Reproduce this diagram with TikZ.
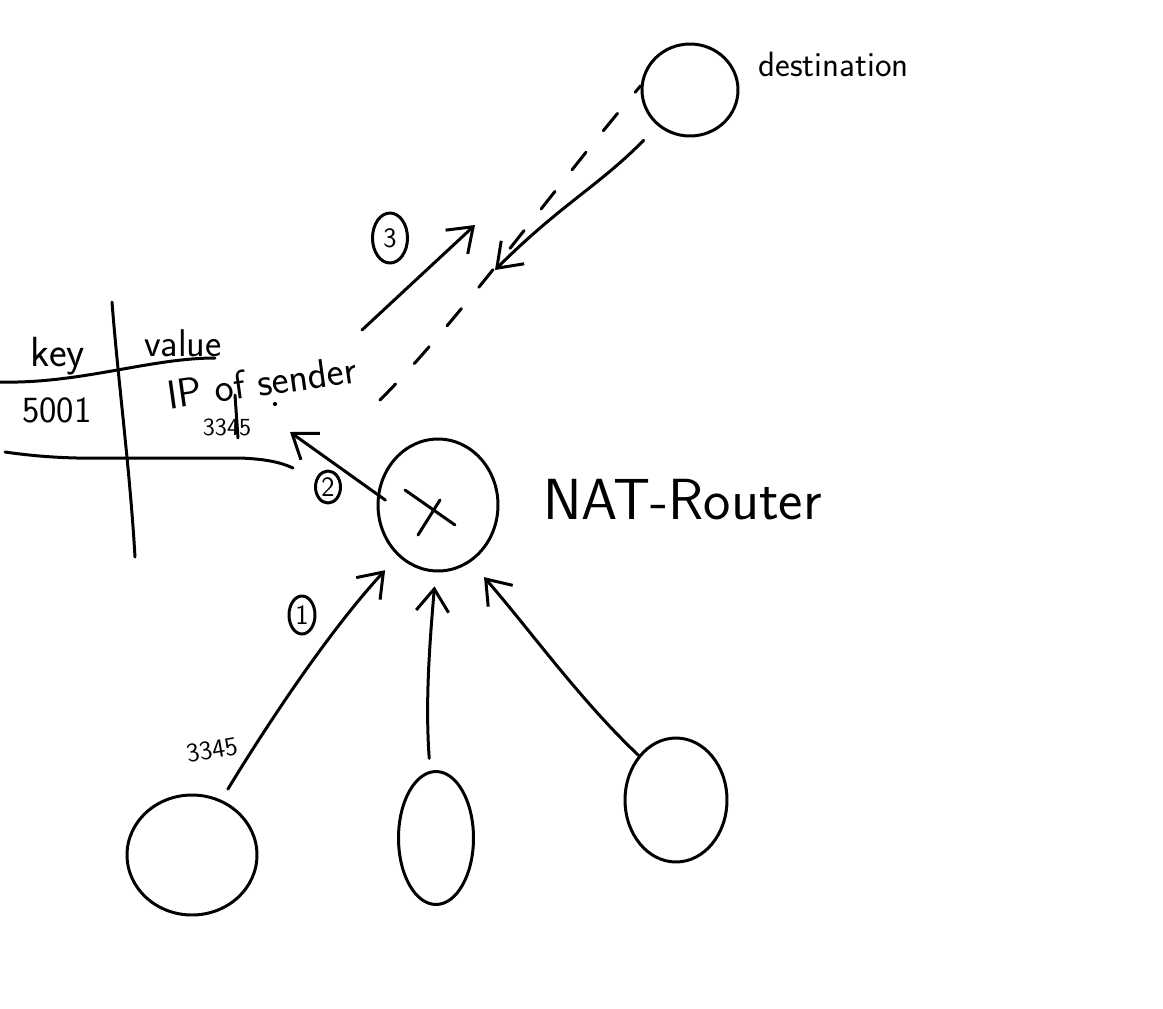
\documentclass[tikz,border=0pt]{standalone}
\usetikzlibrary{shapes.geometric,arrows.meta,calc}
\begin{document}
\begin{tikzpicture}[x=0.02cm,y=-0.02cm,
  ink/.style={line width=1.7pt,line cap=round,line join=round},
  hd/.style={ink,-{Straight Barb[length=4.5mm,width=6.5mm]}},
  blob/.style={ink,draw,ellipse,inner sep=0pt},
  num/.style={ink,draw,ellipse,inner sep=0pt,font=\sffamily\fontsize{16}{16}\selectfont},
  hw/.style={font=\sffamily\fontsize{#1}{#1}\selectfont,inner sep=0pt}]
\useasboundingbox (0,0) rectangle (1163,1008);
% nodes
\node[blob,minimum width=1.92cm,minimum height=1.84cm] (dest) at (690,90) {};
\node[hw=20,anchor=west] (destl) at (758,64) {destination};
\node[blob,minimum width=2.4cm,minimum height=2.64cm] (nat) at (438,505) {};
\draw[ink] (405,490) -- (455,525) (418,535) -- (440,500);
\node[hw=33,anchor=west] (natl) at (543,500) {NAT-Router};
\node[blob,minimum width=2.6cm,minimum height=2.4cm] (h1) at (192,855) {};
\node[blob,minimum width=1.5cm,minimum height=2.66cm] (h2) at (436,838) {};
\node[blob,minimum width=2.04cm,minimum height=2.48cm] (h3) at (676,800) {};
% table
\draw[ink] (0,382) .. controls (80,384) and (150,358) .. (215,358);
\draw[ink] (112,302) .. controls (118,380) and (130,470) .. (135,557);
\draw[ink] (5,452) .. controls (60,460) and (100,458) .. (130,458) -- (240,458) .. controls (265,459) and (280,462) .. (293,468);
\node[hw=24] (key) at (58,356) {key};
\node[hw=22] (val) at (183,343) {value};
\node[hw=21] (k1) at (57,410) {5001};
\node[hw=23,rotate=8] (ip) at (262,382) {IP of sender};
\draw[ink] (235,395) -- (238,438);
\node[hw=14] (port) at (227,427) {3345};
\fill (275,404) circle (1.2pt);
\coordinate (tbl) at (290,432);
% arrows from hosts
\draw[hd,shorten <=0.25cm,shorten >=0.38cm] (h1.62) .. controls (270,720) and (330,630) .. (nat.232);
\node[num,minimum width=0.52cm,minimum height=0.76cm] (n1) at (302,615) {1};
\node[hw=15,rotate=10] (p1) at (212,750) {3345};
\draw[hd,shorten <=0.25cm,shorten >=0.28cm] (h2.95) .. controls (425,700) and (430,640) .. (nat.268);
\draw[hd,shorten >=0.4cm] (h3.130) .. controls (580,700) and (530,630) .. (nat.300);
% arrow 2
\draw[hd,shorten <=-0.2cm] (nat.170) -- (tbl);
\node[num,minimum width=0.5cm,minimum height=0.64cm] (n2) at (328,487) {2};
% arrow 3 and return
\coordinate (s3) at (362,330);
\coordinate (e3) at (475,225);
\draw[hd] (s3) -- (e3);
\node[num,minimum width=0.7cm,minimum height=1cm] (n3) at (390,238) {3};
\coordinate (ds) at (380,400);
\draw[ink,dash pattern=on 0.45cm off 0.55cm] (ds) .. controls (460,320) and (560,180) .. (dest.175);
\coordinate (re) at (495,270);
\draw[hd,shorten <=0.4cm] (dest.228) .. controls (600,185) and (560,205) .. (re);
\end{tikzpicture}
\end{document}
